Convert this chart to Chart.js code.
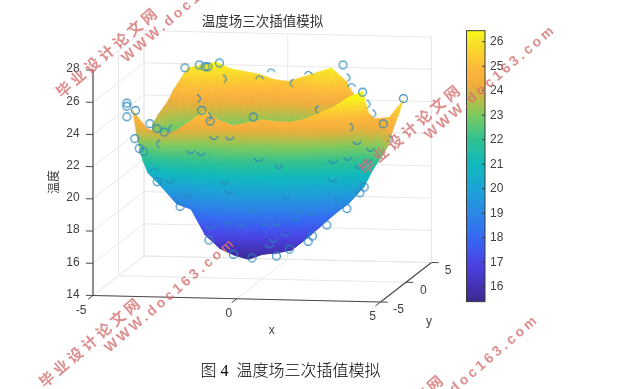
<!DOCTYPE html>
<html>
<head>
<meta charset="utf-8">
<title>温度场三次插值模拟</title>
<script src="https://cdn.jsdelivr.net/npm/chart.js@4"></script>
<style>
  html, body { margin: 0; background: #fff; }
  #wrap { position: relative; width: 617px; height: 389px; overflow: hidden; }
  #chart { display: block; filter: blur(0.45px); }
  #caption {
    position: absolute; left: 0; width: 581px; top: 357px; text-align: center;
    font: 16px "Liberation Serif", "Noto Sans CJK SC", serif; font-weight: 300; color: #000;
  }
</style>
</head>
<body>
<div id="wrap">
  <canvas id="chart" width="617" height="389"></canvas>
  <div id="caption">图 4&nbsp; 温度场三次插值模拟</div>
</div>
<script>
const TITLE = "温度场三次插值模拟";
const X_TICKS = [-5, 0, 5];
const Y_TICKS = [-5, 0, 5];
const Z_TICKS = [14, 16, 18, 20, 22, 24, 26, 28];
const BAR_TICKS = [16, 17, 18, 19, 20, 21, 22, 23, 24, 25, 26];

// surface heights, one row per y
const surfaceX = [-3.8, -3.3, -2.8, -2.3, -1.8, -1.3, -0.8, -0.3, 0.2, 0.7, 1.2, 1.7, 2.2, 2.7, 3.2, 3.7, 4.2];
const surfaceY = [-4, -3, -2, -1, 0, 1, 2, 3, 4];
const surfaceZ = [
  [25.3, 24.2, 23.9, 24.1, 24.7, 25.4, 24.8, 24.5, 24.7, 24.9, 24.8, 24.8, 25.0, 25.4, 25.8, 26.4, 26.8],
  [23.2, 22.8, 22.2, 22.3, 22.1, 22.3, 21.8, 21.5, 21.7, 21.9, 21.9, 22.1, 22.5, 23.0, 23.5, 24.2, 25.4],
  [21.7, 21.3, 20.5, 20.4, 19.4, 19.1, 18.7, 18.4, 18.7, 18.8, 18.9, 19.4, 20.0, 20.6, 21.2, 22.0, 23.6],
  [20.7, 19.8, 18.8, 18.5, 16.9, 16.1, 15.7, 15.46, 15.8, 15.9, 16.1, 16.8, 17.6, 18.4, 19.1, 20.1, 21.8],
  [23.5, 21.5, 19.5, 18.5, 17.5, 16.6, 16.0, 15.7, 15.6, 15.8, 16.4, 17.0, 17.8, 18.8, 19.6, 20.6, 21.9],
  [23.8, 22.5, 21.0, 20.2, 19.6, 19.2, 19.0, 18.9, 19.0, 19.2, 19.6, 20.0, 20.4, 20.7, 21.0, 21.4, 22.2],
  [24.0, 23.6, 23.0, 22.8, 22.6, 22.4, 22.2, 22.1, 22.1, 22.2, 22.4, 22.6, 22.5, 22.2, 21.9, 22.2, 23.0],
  [24.2, 25.0, 25.0, 25.0, 24.8, 24.7, 24.5, 24.3, 24.2, 24.4, 24.6, 24.8, 24.2, 23.2, 22.6, 22.8, 23.6],
  [24.6, 26.0, 26.2, 26.4, 26.0, 25.85, 25.7, 25.4, 25.3, 25.6, 25.9, 26.2, 25.4, 23.9, 23.1, 23.2, 24.3],
];
// the last four columns read warmer in colour than their height gives
const rightColorLift = [
  [0, 0, 0, 0],
  [0, 0, 0, 0],
  [0, 0, 0, 0.3],
  [0, 0, 0, 0.3],
  [0, 0, 0.2, 0.8],
  [0, 0.3, 0.6, 1.3],
  [0.2, 0.8, 1.1, 1.5],
  [0.6, 1.4, 1.5, 1.6],
  [0.8, 1.6, 1.7, 1.6],
];

// sample points as [x, y, z], split by how much of the circle shows past the surface
const ringPoints = [
  [-3.4, 4, 26.0], [-2.9, 4, 26.2], [-2.7, 4, 26.1], [-2.6, 4, 26.1], [-2.2, 4, 26.35], [2.1, 4, 26.4], [4.2, 4, 24.4], [3.5, 4, 22.8],
  [-4, -4, 25.75], [-4, -4, 25.55], [-4, -4, 24.9], [-3.7, -4, 25.3], [-3.2, -4, 24.5], [-2.95, -4, 24.2], [-2.7, -4, 24.0],
  [-1.4, -4, 25.4], [-1.1, -4, 24.75], [0.4, -4, 25.06], [4.2, -4, 26.76],
  [-3.9, -3, 23.3], [-3.75, -3, 22.7], [-3.6, -3, 22.5], [-3.3, -2, 20.4], [-2.5, -2, 18.9], [-1.5, -2, 16.85],
  [1.95, -2, 16.9], [2.1, -2, 17.25], [2.6, -2, 17.95], [3.3, -2, 19.0], [3.75, -2, 20.0], [3.9, -2, 20.36],
  [0.85, -2, 15.95], [0, -2, 15.8], [-0.65, -2, 16.0], [1.3, -2, 16.4],
];
const cupPoints = [
  [-1.15, -3, 23.6], [-0.6, -3, 23.6], [-1.95, -3, 22.7], [-1.6, -3, 22.6], [0.4, -3, 22.3], [1.1, -3, 21.9],
  [3.83, -3, 23.5], [4.3, -3, 23.1], [3.0, -3, 22.3], [3.5, -3, 22.5], [3.9, -3, 22.0], [4.2, -3, 22.4],
  [-2.85, -2, 20.6], [-2.25, -2, 19.7], [-0.95, -2, 20.6], [-0.8, -2, 20.0], [0, -2, 18.9], [-0.85, -2, 18.1], [-0.35, -2, 18.0], [-1.45, -2, 17.8],
  [2.8, -2, 20.9], [1.2, -2, 19.8], [1.65, -2, 18.9], [2.15, -2, 18.8], [1.5, -2, 18.4], [0.45, -2, 18.1], [0.85, -2, 18.1],
  [1.15, -2, 17.45], [0.75, -2, 17.05], [0.6, -2, 16.7],
];
const capPoints = [
  [-0.4, 4, 25.8], [-0.8, 4, 25.35], [0.9, 4, 25.7], [2.4, 4, 25.0], [-3.4, -2, 21.0],
];
const leftArcPoints = [
  [0.4, 4, 25.2], [2.7, -4, 25.6], [-3.0, -3, 23.0], [-2.55, -2, 19.4], [-2.4, -4, 24.2],
];
const rightArcPoints = [
  [-2.1, 4, 25.35], [-3.0, 4, 24.1], [2.2, 4, 25.6], [2.9, 4, 24.0], [3.1, 4, 23.4], [4.2, 1, 22.6], [3.55, -3, 24.3], [2.8, -2, 19.45], [-1.2, -4, 25.0],
];

const BAR_MIN = 15.39;
const BAR_MAX = 26.45;
const colorValues = [15.39, 16, 17, 18, 19, 20, 21, 22, 23, 23.6, 24.2, 24.8, 25.4, 26, 26.45];
const colorHex = ["#3b2a8c", "#4431b4", "#4a45e6", "#3568f2", "#2b88e6", "#1ca3d6", "#10b9bd", "#30c192", "#7ccb5f", "#b8bd48", "#f0ac3a", "#fdb53e", "#fbcb30", "#f8e428", "#f9fb15"];

const TEXT_COLOR = "#404040";
const GRID_COLOR = "#e8e8e8";
const AXIS_COLOR = "#4a4a4a";
const MARK_COLOR = "#2c86bd";

// oblique view of the box, in the units of the two chart scales
function sceneX(x, y) { return 28.75 * (x + 5) + 5.1 * (y + 5); }
function sceneY(x, y, z) { return 6.5 - 0.65 * (x + 5) + 3.95 * (y + 5) + 16.1 * (z - 14); }

function hexRgb(h) {
  return [parseInt(h.slice(1, 3), 16), parseInt(h.slice(3, 5), 16), parseInt(h.slice(5, 7), 16)];
}
function colorAt(v) {
  v = Math.min(BAR_MAX, Math.max(BAR_MIN, v));
  let i = 0;
  while (i < colorValues.length - 2 && v > colorValues[i + 1]) i++;
  const t = (v - colorValues[i]) / (colorValues[i + 1] - colorValues[i]);
  const a = hexRgb(colorHex[i]), b = hexRgb(colorHex[i + 1]);
  return `rgb(${a.map((c, k) => Math.round(c + (b[k] - c) * t)).join(",")})`;
}
function addStops(grad, lo, hi) {
  const n = Math.max(2, Math.ceil((hi - lo) * 2) + 1);
  for (let i = 0; i < n; i++) {
    const t = i / (n - 1);
    grad.addColorStop(t, colorAt(lo + (hi - lo) * t));
  }
}
function addColorbarStops(grad) {
  colorValues.forEach((v, i) => {
    grad.addColorStop((v - BAR_MIN) / (BAR_MAX - BAR_MIN), colorHex[i]);
  });
}

function arcMark(from, to) {
  const c = document.createElement("canvas");
  c.width = c.height = 11;
  const g = c.getContext("2d");
  g.strokeStyle = MARK_COLOR;
  g.lineWidth = 1.1;
  g.beginPath();
  g.arc(5.5, 5.5, 3.9, from, to);
  g.stroke();
  return c;
}

function toScene(list) {
  return list.map((p) => ({ x: sceneX(p[0], p[1]), y: sceneY(p[0], p[1], p[2]) }));
}
function markSet(label, list, style) {
  return { label, data: toScene(list), pointStyle: style, pointRadius: 4, showLine: false, clip: false };
}
function vertexColor(i, j) {
  const k = i - (surfaceX.length - 4);
  return surfaceZ[j][i] + (k >= 0 ? rightColorLift[j][k] : 0);
}

function drawTriangle(ctx, a, b, c) {
  const d = (b.px - a.px) * (c.py - a.py) - (c.px - a.px) * (b.py - a.py);
  const lo = Math.min(a.z, b.z, c.z), hi = Math.max(a.z, b.z, c.z);
  let paint = colorAt((lo + hi) / 2);
  if (Math.abs(d) > 0.01 && hi - lo > 0.01) {
    const gx = ((b.z - a.z) * (c.py - a.py) - (c.z - a.z) * (b.py - a.py)) / d;
    const gy = ((c.z - a.z) * (b.px - a.px) - (b.z - a.z) * (c.px - a.px)) / d;
    const k = (hi - lo) / (gx * gx + gy * gy);
    const s = [a, b, c].find((p) => p.z === lo);
    const grad = ctx.createLinearGradient(s.px, s.py, s.px + gx * k, s.py + gy * k);
    addStops(grad, lo, hi);
    paint = grad;
  }
  ctx.fillStyle = paint;
  ctx.strokeStyle = paint;
  ctx.lineWidth = 0.7;
  ctx.beginPath();
  ctx.moveTo(a.px, a.py);
  ctx.lineTo(b.px, b.py);
  ctx.lineTo(c.px, c.py);
  ctx.closePath();
  ctx.fill();
  ctx.stroke();
}

const boxPlugin = {
  id: "box3d",
  beforeDatasetsDraw(chart) {
    const ctx = chart.ctx;
    const sx = chart.scales.x, sy = chart.scales.y;
    const project = (x, y, z) => [sx.getPixelForValue(sceneX(x, y)), sy.getPixelForValue(sceneY(x, y, z))];
    const seg = (p, q, color, w) => {
      const a = project(...p), b = project(...q);
      ctx.strokeStyle = color;
      ctx.lineWidth = w;
      ctx.beginPath();
      ctx.moveTo(a[0], a[1]);
      ctx.lineTo(b[0], b[1]);
      ctx.stroke();
    };
    const label = (text, px, py, align) => {
      ctx.fillStyle = TEXT_COLOR;
      ctx.font = '12px "Liberation Sans", sans-serif';
      ctx.textAlign = align || "center";
      ctx.textBaseline = "middle";
      ctx.fillText(text, px, py);
    };

    ctx.save();
    // back walls and floor
    Z_TICKS.forEach((z) => {
      seg([-5, -5, z], [-5, 5, z], GRID_COLOR, 1);
      seg([-5, 5, z], [5, 5, z], GRID_COLOR, 1);
    });
    X_TICKS.forEach((x) => {
      seg([x, -5, 14], [x, 5, 14], GRID_COLOR, 1);
      seg([x, 5, 14], [x, 5, 28], GRID_COLOR, 1);
    });
    Y_TICKS.forEach((y) => {
      seg([-5, y, 14], [5, y, 14], GRID_COLOR, 1);
      seg([-5, y, 14], [-5, y, 28], GRID_COLOR, 1);
    });

    // axes
    seg([-5, -5, 14], [-5, -5, 28], AXIS_COLOR, 1.2);
    seg([-5, -5, 14], [5, -5, 14], AXIS_COLOR, 1.2);
    seg([5, -5, 14], [5, 5, 14], AXIS_COLOR, 1.2);
    Z_TICKS.forEach((z) => {
      seg([-5, -5, z], [-5.25, -5, z], AXIS_COLOR, 1);
      const p = project(-5, -5, z);
      label(String(z), p[0] - 20, p[1] - 1);
    });
    X_TICKS.forEach((x) => {
      seg([x, -5, 14], [x, -6, 14], AXIS_COLOR, 1);
      const p = project(x, -5, 14);
      label(String(x), p[0] - (x < 0 ? 12 : 8), p[1] + 15);
    });
    Y_TICKS.forEach((y) => {
      seg([5, y, 14], [5.25, y, 14], AXIS_COLOR, 1);
      const p = project(5, y, 14);
      label(String(y), p[0] + 18 - (y + 5) * 0.15, p[1] + 8);
    });
    const xl = project(0, -5, 14);
    label("x", xl[0] + 35, xl[1] + 32);
    const yl = project(5, 0, 14);
    label("y", yl[0] + 23, yl[1] + 39);

    ctx.save();
    ctx.translate(53, 182);
    ctx.rotate(-Math.PI / 2);
    ctx.fillStyle = TEXT_COLOR;
    ctx.font = '12px "Noto Sans CJK SC", sans-serif';
    ctx.textAlign = "center";
    ctx.textBaseline = "middle";
    ctx.fillText("温度", 0, 0);
    ctx.restore();

    // surface, back rows first, far columns first
    for (let j = surfaceY.length - 2; j >= 0; j--) {
      for (let i = surfaceX.length - 2; i >= 0; i--) {
        const v = [[i, j + 1], [i + 1, j + 1], [i + 1, j], [i, j]].map(([a, b]) => {
          const p = project(surfaceX[a], surfaceY[b], surfaceZ[b][a]);
          return { px: p[0], py: p[1], z: vertexColor(a, b) };
        });
        drawTriangle(ctx, v[0], v[1], v[2]);
        drawTriangle(ctx, v[0], v[2], v[3]);
      }
    }

    // colorbar
    const cb = chart.scales.bar;
    const top = cb.getPixelForValue(BAR_MAX), bottom = cb.getPixelForValue(BAR_MIN);
    const barLeft = 466.5, barRight = 485;
    const grad = ctx.createLinearGradient(0, bottom, 0, top);
    addColorbarStops(grad);
    ctx.fillStyle = grad;
    ctx.fillRect(barLeft, top, barRight - barLeft, bottom - top);
    ctx.strokeStyle = "#3a3a3a";
    ctx.lineWidth = 1;
    ctx.strokeRect(barLeft, top, barRight - barLeft, bottom - top);
    BAR_TICKS.forEach((t) => {
      const py = cb.getPixelForValue(t);
      ctx.beginPath();
      ctx.moveTo(barRight - 3, py);
      ctx.lineTo(barRight, py);
      ctx.stroke();
      label(String(t), 490, py, "left");
    });
    ctx.restore();
  },
  afterDraw(chart) {
    const ctx = chart.ctx;
    ctx.save();
    ctx.fillStyle = "rgba(214, 112, 112, 0.8)";
    ctx.textAlign = "left";
    ctx.textBaseline = "middle";
    [[64, 89], [367, 166], [47, 379], [350, 456]].forEach(([ax, ay]) => {
      ctx.save();
      ctx.translate(ax, ay);
      ctx.rotate(-0.71);
      ctx.font = 'bold 15px "Noto Sans CJK SC", sans-serif';
      ctx.letterSpacing = "3.7px";
      ctx.fillText("毕业设计论文网", -8, 0);
      ctx.font = 'bold 14px "Liberation Sans", sans-serif';
      ctx.letterSpacing = "3.2px";
      ctx.fillText("WWW.doc163.com", 64, 17);
      ctx.restore();
    });
    ctx.restore();
  },
};

new Chart(document.getElementById("chart"), {
  type: "scatter",
  data: {
    datasets: [
      markSet("ring", ringPoints, arcMark(0, Math.PI * 2)),
      markSet("cup", cupPoints, arcMark(0.15, Math.PI - 0.15)),
      markSet("cap", capPoints, arcMark(Math.PI + 0.2, Math.PI * 2 - 0.2)),
      markSet("left", leftArcPoints, arcMark(Math.PI * 0.6, Math.PI * 1.45)),
      markSet("right", rightArcPoints, arcMark(-Math.PI * 0.45, Math.PI * 0.4)),
    ],
  },
  options: {
    responsive: false,
    animation: false,
    layout: { padding: { left: 93, right: 185, top: 0, bottom: 87 } },
    plugins: {
      legend: { display: false },
      tooltip: { enabled: false },
      title: {
        display: true,
        text: TITLE,
        fullSize: false,
        color: "#333",
        font: { family: '"Noto Sans CJK SC", sans-serif', size: 13.5, weight: "normal", lineHeight: 1 },
        padding: { top: 14, bottom: 4.5 },
      },
    },
    scales: {
      x: { type: "linear", display: false, min: 0, max: 339 },
      y: { type: "linear", display: false, min: 0, max: 270 },
      bar: { type: "linear", display: false, position: "right", min: 15.375, max: 26.396 },
    },
  },
  plugins: [boxPlugin],
});
</script>
</body>
</html>
